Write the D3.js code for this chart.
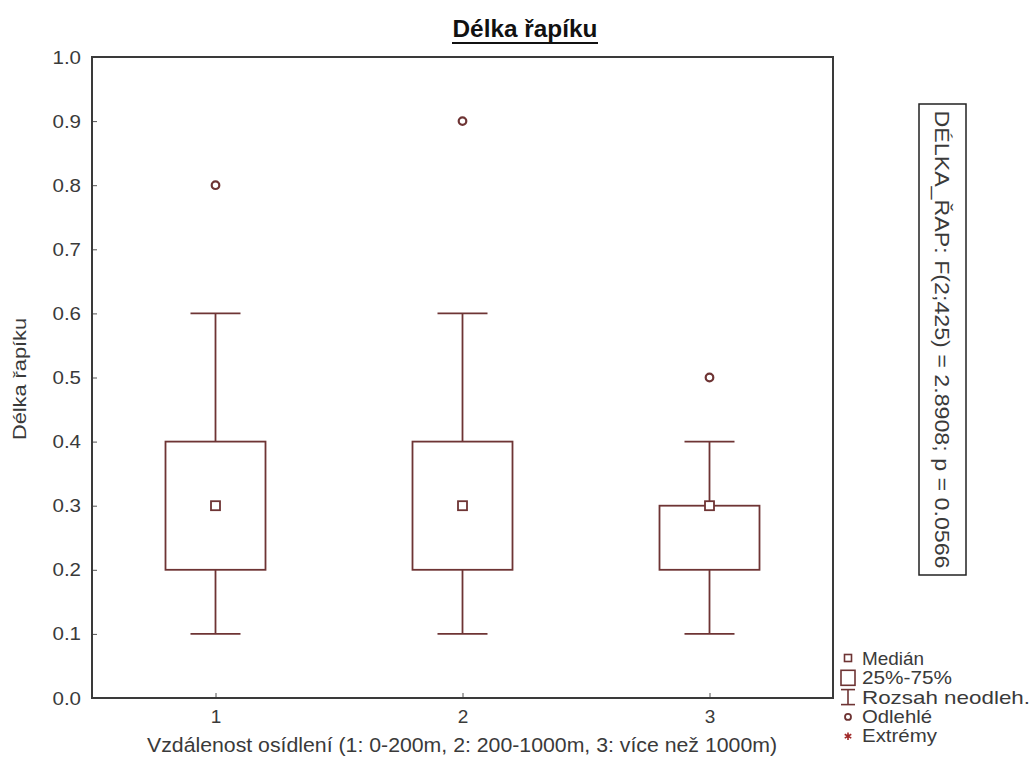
<!DOCTYPE html>
<html><head><meta charset="utf-8">
<script src="https://cdn.jsdelivr.net/npm/d3@7"></script>
<style>body{margin:0;background:#fff}svg{display:block}text{font-family:"Liberation Sans",Arial,sans-serif}</style>
</head><body>
<svg id="c" width="1035" height="774"></svg>
<script>
const categories = ["1","2","3"];
const q1 = [0.2,0.2,0.2];
const q3 = [0.4,0.4,0.3];
const medians = [0.3,0.3,0.3];
const whiskerLow = [0.1,0.1,0.1];
const whiskerHigh = [0.6,0.6,0.4];
const outliers = [[0.8],[0.9],[0.5]];
const yTicks = [0,0.1,0.2,0.3,0.4,0.5,0.6,0.7,0.8,0.9,1.0];
const title = "Délka řapíku";
const yLabel = "Délka řapíku";
const xLabel = "Vzdálenost osídlení (1: 0-200m, 2: 200-1000m, 3: více než 1000m)";
const statText = "DÉLKA_ŘAP:  F(2;425) = 2.8908; p = 0.0566";
const legendItems = ["Medián","25%-75%","Rozsah neodleh.","Odlehlé","Extrémy"];

const svg = d3.select("#c");
const L=92, R=833, T=57, B=698;
const boxColor = "#6e3434", textColor="#3a3a3a", frameColor="#3a3a3a";
const x = d3.scalePoint().domain(categories).range([L,R]).padding(0.5);
const y = d3.scaleLinear().domain([0,1]).range([B,T]);
const boxW = 100, capW = 50;

function stretch(sel, ratio){
  sel.each(function(){
    const w = this.getComputedTextLength();
    d3.select(this).attr("textLength", w*ratio).attr("lengthAdjust","spacingAndGlyphs");
  });
}

// axes
const yAxis = svg.append("g").attr("transform",`translate(${L},0)`)
  .call(d3.axisLeft(y).tickValues(yTicks).tickFormat(d3.format(".1f")).tickSizeInner(-5).tickSizeOuter(0).tickPadding(11));
const xAxis = svg.append("g").attr("transform",`translate(0,${B})`)
  .call(d3.axisBottom(x).tickSizeInner(-5).tickSizeOuter(0).tickPadding(12));
[yAxis,xAxis].forEach(a=>{
  a.select(".domain").remove();
  a.selectAll(".tick line").attr("stroke","#555").attr("stroke-width",1);
  a.selectAll(".tick text").attr("fill",textColor).style("font-size","19px");
});
stretch(yAxis.selectAll(".tick text"),1.08);

// frame
svg.append("rect").attr("x",L).attr("y",T).attr("width",R-L).attr("height",B-T)
  .attr("fill","none").attr("stroke",frameColor).attr("stroke-width",2);

const g = svg.append("g").attr("stroke",boxColor).attr("stroke-width",1.8).attr("fill","none");
categories.forEach((c,i)=>{
  const cx = x(c);
  g.append("line").attr("x1",cx).attr("x2",cx).attr("y1",y(q3[i])).attr("y2",y(whiskerHigh[i]));
  g.append("line").attr("x1",cx).attr("x2",cx).attr("y1",y(q1[i])).attr("y2",y(whiskerLow[i]));
  g.append("line").attr("x1",cx-capW/2).attr("x2",cx+capW/2).attr("y1",y(whiskerHigh[i])).attr("y2",y(whiskerHigh[i]));
  g.append("line").attr("x1",cx-capW/2).attr("x2",cx+capW/2).attr("y1",y(whiskerLow[i])).attr("y2",y(whiskerLow[i]));
  g.append("rect").attr("x",cx-boxW/2).attr("y",y(q3[i])).attr("width",boxW).attr("height",y(q1[i])-y(q3[i])).attr("fill","#fff");
  g.append("rect").attr("x",cx-4.5).attr("y",y(medians[i])-4.5).attr("width",9).attr("height",9).attr("fill","#fff");
  outliers[i].forEach(v=>{
    g.append("circle").attr("cx",cx).attr("cy",y(v)).attr("r",3.8).attr("stroke-width",2.2).attr("fill","#fff");
  });
});

// title
svg.append("text").attr("x",525).attr("y",37).attr("text-anchor","middle")
  .style("font-size","23px").style("font-weight","bold").attr("fill","#111").text(title)
  .attr("textLength",145).attr("lengthAdjust","spacingAndGlyphs");
svg.append("line").attr("x1",525-73).attr("x2",525+73).attr("y1",43).attr("y2",43).attr("stroke","#111").attr("stroke-width",2.2);

// axis labels
svg.append("text").attr("transform",`translate(26,379) rotate(-90)`).attr("text-anchor","middle")
  .style("font-size","18px").attr("fill",textColor).text(yLabel)
  .attr("textLength",122).attr("lengthAdjust","spacingAndGlyphs");
svg.append("text").attr("x",462).attr("y",752).attr("text-anchor","middle")
  .style("font-size","20px").attr("fill",textColor).text(xLabel)
  .attr("textLength",630).attr("lengthAdjust","spacingAndGlyphs");

// stat box
svg.append("rect").attr("x",919).attr("y",104).attr("width",47).attr("height",471)
  .attr("fill","#fff").attr("stroke","#222").attr("stroke-width",1.5);
svg.append("text").attr("transform",`translate(935,339.5) rotate(90)`).attr("text-anchor","middle")
  .style("font-size","21px").attr("fill",textColor).text(statText)
  .attr("textLength",458).attr("lengthAdjust","spacingAndGlyphs");

// legend
const lx = 848, ly0 = 658, ldy = 19.3;
const lg = svg.append("g");
const legendLens = [62,90,168,70,75];
legendItems.forEach((t,i)=>{
  lg.append("text").attr("x",862).attr("y",ly0+i*ldy+7).style("font-size","19px").attr("fill",textColor).text(t)
    .attr("textLength",legendLens[i]).attr("lengthAdjust","spacingAndGlyphs");
});
const ls = lg.append("g").attr("stroke",boxColor).attr("fill","none").attr("stroke-width",1.6);
ls.append("rect").attr("x",lx-3.5).attr("y",ly0-3.5).attr("width",7).attr("height",7);
ls.append("rect").attr("x",lx-7).attr("y",ly0+ldy-7).attr("width",14).attr("height",15);
ls.append("line").attr("x1",lx).attr("x2",lx).attr("y1",ly0+2*ldy-7).attr("y2",ly0+2*ldy+8);
ls.append("line").attr("x1",lx-7).attr("x2",lx+7).attr("y1",ly0+2*ldy-7).attr("y2",ly0+2*ldy-7);
ls.append("line").attr("x1",lx-7).attr("x2",lx+7).attr("y1",ly0+2*ldy+8).attr("y2",ly0+2*ldy+8);
ls.append("circle").attr("cx",lx).attr("cy",ly0+3*ldy+1).attr("r",3).attr("stroke-width",1.8);
lg.append("path").attr("transform",`translate(${lx},${ly0+4*ldy+1})`)
  .attr("d",d3.symbol(d3.symbolAsterisk,40)()).attr("stroke","#a02828").attr("stroke-width",1.6).attr("fill","none");
</script>
</body></html>
